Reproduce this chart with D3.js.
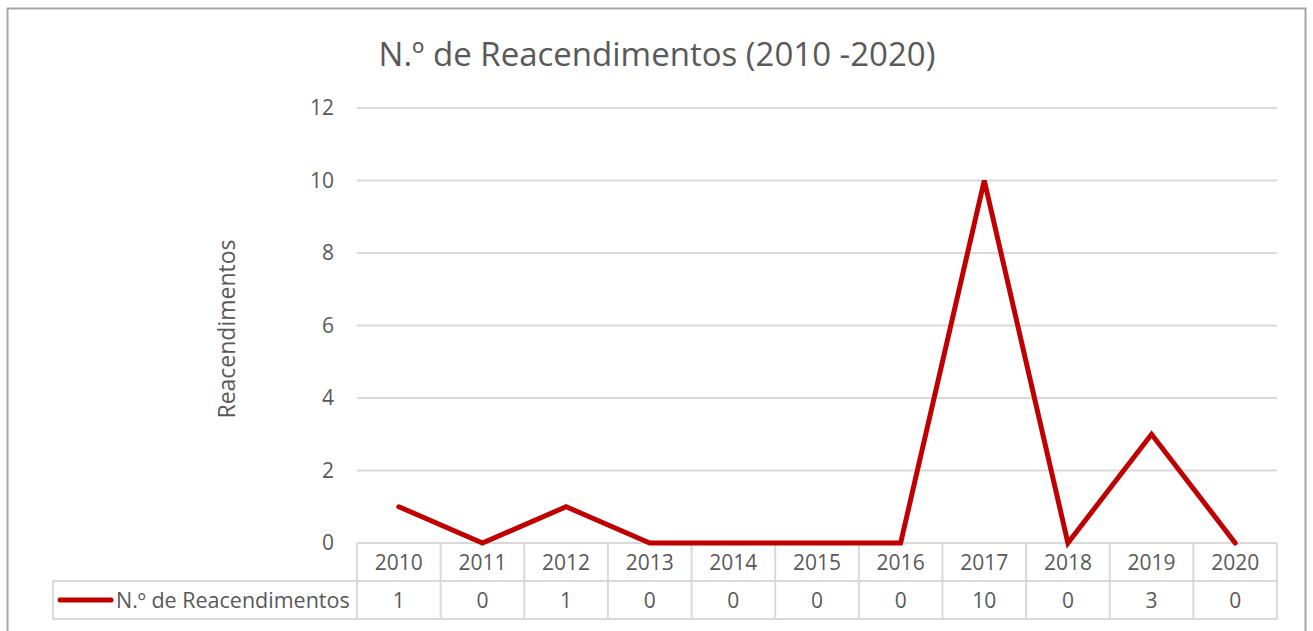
<!DOCTYPE html>
<html>
<head>
<meta charset="utf-8">
<script src="https://cdn.jsdelivr.net/npm/d3@7"></script>
<style>
body { margin: 0; background: #fff; }
text { font-family: "Open Sans", "Noto Sans", sans-serif; fill: #595959; }
</style>
</head>
<body>
<script>
var years = ["2010","2011","2012","2013","2014","2015","2016","2017","2018","2019","2020"]
var values = [1, 0, 1, 0, 0, 0, 0, 10, 0, 3, 0]
var yTicks = [0, 2, 4, 6, 8, 10, 12]
var seriesName = "N.º de Reacendimentos"
var chartTitle = "N.º de Reacendimentos (2010 -2020)"
var yTitle = "Reacendimentos"

var width = 1313, height = 631
var red = "#c00000", grid = "#d9d9d9"

var svg = d3.select("body")
.append("svg")
.attr("width", width)
.attr("height", height);

// chart frame
svg.append("rect")
.attr("x", 7.5).attr("y", 8.5)
.attr("width", 1298).attr("height", 640)
.attr("fill", "#fff")
.attr("stroke", "#a6a6a6")
.attr("stroke-width", 2);

var xScale = d3.scaleBand()
.domain(years)
.range([357, 1277]);

var yScale = d3.scaleLinear()
.domain([0, 12])
.range([543, 108]);

// gridlines
svg.selectAll(".grid")
.data(yTicks.slice(1))
.enter()
.append("line")
.attr("class", "grid")
.attr("x1", 357).attr("x2", 1277)
.attr("y1", function(d) { return yScale(d) })
.attr("y2", function(d) { return yScale(d) })
.attr("stroke", grid)
.attr("stroke-width", 2);

// y axis ticks
var yAxis = d3.axisLeft(yScale).tickValues(yTicks).tickSize(0).tickPadding(0);
var yg = svg.append("g").attr("transform", "translate(334,0)").call(yAxis);
yg.select(".domain").remove();
yg.selectAll("text")
.attr("font-size", 21)
.attr("fill", "#595959")
.attr("font-family", "Open Sans, Noto Sans, sans-serif");

// y title
svg.append("text")
.attr("transform", "translate(235,329) rotate(-90)")
.attr("text-anchor", "middle")
.attr("font-size", 23)
.text(yTitle);

// title
svg.append("text")
.attr("x", 657).attr("y", 66)
.attr("text-anchor", "middle")
.attr("font-size", 33)
.text(chartTitle);

// data table
var rowTop = 543, rowMid = 581, rowBot = 619;
var tbl = svg.append("g").attr("stroke", grid).attr("stroke-width", 2);
tbl.append("line").attr("x1", 357).attr("x2", 1277).attr("y1", rowTop).attr("y2", rowTop);
tbl.append("line").attr("x1", 53).attr("x2", 1277).attr("y1", rowMid).attr("y2", rowMid);
tbl.append("line").attr("x1", 53).attr("x2", 1277).attr("y1", rowBot).attr("y2", rowBot);
tbl.append("line").attr("x1", 53).attr("x2", 53).attr("y1", rowMid).attr("y2", rowBot);
tbl.selectAll(".vline")
.data(years)
.enter()
.append("line")
.attr("class", "vline")
.attr("x1", function(d) { return xScale(d) })
.attr("x2", function(d) { return xScale(d) })
.attr("y1", rowTop).attr("y2", rowBot);
tbl.append("line").attr("x1", 1277).attr("x2", 1277).attr("y1", rowTop).attr("y2", rowBot);

svg.selectAll(".yearLabel")
.data(years)
.enter()
.append("text")
.attr("class", "yearLabel")
.attr("x", function(d) { return xScale(d) + xScale.bandwidth()/2 })
.attr("y", 570)
.attr("text-anchor", "middle")
.attr("font-size", 21)
.text(function(d) { return d });

svg.selectAll(".valLabel")
.data(values)
.enter()
.append("text")
.attr("class", "valLabel")
.attr("x", function(d, i) { return xScale(years[i]) + xScale.bandwidth()/2 })
.attr("y", 608)
.attr("text-anchor", "middle")
.attr("font-size", 21)
.text(function(d) { return d });

// legend key in table
svg.append("line")
.attr("x1", 60).attr("x2", 111)
.attr("y1", 600).attr("y2", 600)
.attr("stroke", red)
.attr("stroke-width", 5)
.attr("stroke-linecap", "round");
svg.append("text")
.attr("x", 116).attr("y", 608)
.attr("font-size", 21.5)
.text(seriesName);

// series line
var line = d3.line()
.x(function(d, i) { return xScale(years[i]) + xScale.bandwidth()/2 })
.y(function(d) { return yScale(d) });

svg.append("path")
.datum(values)
.attr("d", line)
.attr("fill", "none")
.attr("stroke", red)
.attr("stroke-width", 5)
.attr("stroke-linecap", "round")
.attr("stroke-linejoin", "miter");
</script>
</body>
</html>
